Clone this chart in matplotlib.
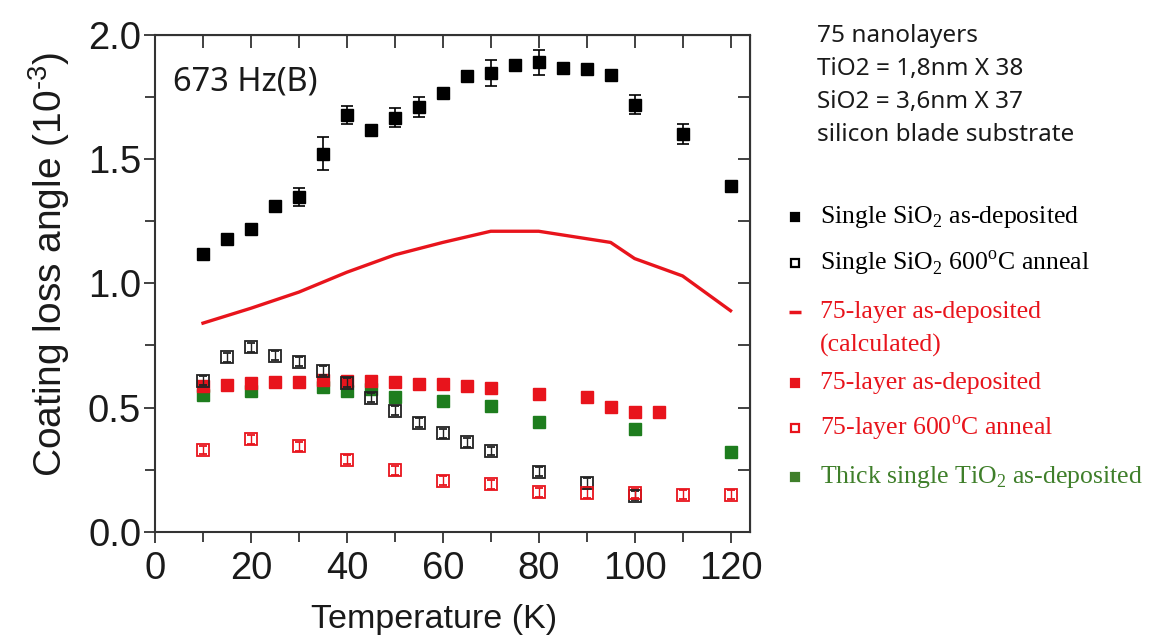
import numpy as np
import matplotlib
matplotlib.use("Agg")
import matplotlib.pyplot as plt
from matplotlib.lines import Line2D
from matplotlib.ticker import MultipleLocator, FormatStrFormatter

plt.rcParams['mathtext.fontset'] = 'custom'
plt.rcParams['mathtext.rm'] = 'Liberation Serif'
plt.rcParams['mathtext.sf'] = 'Liberation Sans'

# Single SiO2 as-deposited
t_sio2 = [10, 15, 20, 25, 30, 35, 40, 45, 50, 55, 60, 65, 70, 75, 80, 85, 90, 95, 100, 110, 120]
phi_sio2 = [1.12, 1.18, 1.218, 1.312, 1.348, 1.523, 1.677, 1.617, 1.668, 1.71, 1.768,
            1.834, 1.847, 1.881, 1.891, 1.867, 1.865, 1.838, 1.72, 1.603, 1.392]
err_sio2 = [0.01, 0.01, 0.01, 0.015, 0.035, 0.067, 0.037, 0.01, 0.04, 0.04, 0.01,
            0.02, 0.054, 0.02, 0.05, 0.02, 0.015, 0.02, 0.038, 0.04, 0.01]

# Single SiO2 600C anneal
t_sio2_ann = [10, 15, 20, 25, 30, 35, 40, 45, 50, 55, 60, 65, 70, 80, 90, 100]
phi_sio2_ann = [0.608, 0.702, 0.742, 0.708, 0.684, 0.648, 0.60, 0.539, 0.487, 0.439,
                0.396, 0.36, 0.325, 0.241, 0.197, 0.145]

# 75-layer as-deposited (calculated)
t_calc = [10, 20, 30, 40, 50, 60, 70, 80, 85, 90, 95, 100, 110, 120]
phi_calc = [0.84, 0.90, 0.965, 1.045, 1.115, 1.165, 1.21, 1.21, 1.195, 1.18, 1.165, 1.10, 1.03, 0.89]

# 75-layer as-deposited (measured)
t_75 = [10, 15, 20, 25, 30, 35, 40, 45, 50, 55, 60, 65, 70, 80, 90, 95, 100, 105]
phi_75 = [0.585, 0.59, 0.60, 0.604, 0.604, 0.612, 0.605, 0.606, 0.604, 0.593, 0.593,
          0.588, 0.58, 0.553, 0.541, 0.503, 0.483, 0.483]

# 75-layer 600C anneal
t_75_ann = [10, 20, 30, 40, 50, 60, 70, 80, 90, 100, 110, 120]
phi_75_ann = [0.329, 0.372, 0.345, 0.289, 0.248, 0.205, 0.192, 0.158, 0.154, 0.154, 0.148, 0.148]

# Thick single TiO2 as-deposited
t_tio2 = [10, 20, 35, 40, 45, 50, 60, 70, 80, 100, 120]
phi_tio2 = [0.55, 0.567, 0.581, 0.566, 0.575, 0.543, 0.527, 0.507, 0.44, 0.413, 0.322]

fig = plt.figure(figsize=(11.57, 6.38), dpi=100)
ax = fig.add_axes([0.134, 0.1666, 0.514, 0.7784])

red = '#e8141c'
green = '#1e7d1e'

ax.plot(t_calc, phi_calc, color=red, lw=2.4, zorder=2)
ax.plot(t_tio2, phi_tio2, 's', color=green, ms=8, zorder=3)
ax.plot(t_75, phi_75, 's', color=red, ms=8, zorder=4)
ax.errorbar(t_sio2_ann, phi_sio2_ann, yerr=0.018, fmt='s', mfc='none', mec='#222222',
            ecolor='#222222', ms=8.5, mew=1.3, elinewidth=1, capsize=3, zorder=5)
ax.errorbar(t_75_ann, phi_75_ann, yerr=0.018, fmt='s', mfc='none', mec=red,
            ecolor=red, ms=8.5, mew=1.3, elinewidth=1, capsize=3, zorder=5)
ax.errorbar(t_sio2, phi_sio2, yerr=err_sio2, fmt='s', color='black', ms=8,
            elinewidth=1.2, capsize=4, capthick=1.2, zorder=6)

ax.set_xlim(0, 124)
ax.set_ylim(0, 2.0)
ax.xaxis.set_major_locator(MultipleLocator(20))
ax.xaxis.set_minor_locator(MultipleLocator(10))
ax.yaxis.set_major_locator(MultipleLocator(0.5))
ax.yaxis.set_minor_locator(MultipleLocator(0.25))
ax.yaxis.set_major_formatter(FormatStrFormatter('%.1f'))
ax.tick_params(which='both', direction='out', width=1.3, color='#333333',
               labelsize=27.5, labelcolor='#1a1a1a')
ax.tick_params(which='major', length=8)
ax.tick_params(which='minor', length=7)
ax.tick_params(axis='x', pad=6)
ax.tick_params(axis='y', pad=2)
for lab in ax.get_xticklabels() + ax.get_yticklabels():
    lab.set_family('Liberation Sans')

for s in ax.spines.values():
    s.set_linewidth(1.5)
    s.set_color('#333333')

# mirrored inward ticks on top and right
top = ax.secondary_xaxis('top')
top.xaxis.set_major_locator(MultipleLocator(10))
top.tick_params(direction='in', length=9, width=1.3, color='#333333', labeltop=False)
right = ax.secondary_yaxis('right')
right.yaxis.set_major_locator(MultipleLocator(0.25))
right.tick_params(direction='in', length=9, width=1.3, color='#333333', labelright=False)

ax.set_xlabel('Temperature (K)', fontsize=24.5, family='Liberation Sans', color='#1a1a1a')
ax.xaxis.set_label_coords(0.47, -0.145)
ax.set_ylabel('Coating loss angle (10$^{\\mathsf{\u20103}}$)', fontsize=28,
              family='Liberation Sans', color='#1a1a1a')
ax.yaxis.set_label_coords(-0.14, 0.537)

ax.text(0.03, 0.905, '673 Hz(B)', transform=ax.transAxes, fontsize=23.5,
        family='Noto Sans', color='#1a1a1a', va='center')

# notes at top right
fig.text(0.706, 0.962, '75 nanolayers\nTiO2 = 1,8nm X 38\nSiO2 = 3,6nm X 37\nsilicon blade substrate',
         fontsize=17.5, family='Noto Sans', color='#1a1a1a', va='top', linespacing=1.49)

# legend
leg_rows = [
    (217, 's', 'black', 'black', 'Single SiO$_2$ as-deposited', 'black'),
    (263, 's', 'none', 'black', 'Single SiO$_2$ 600$^{\\rm o}$C anneal', 'black'),
    (312, '_', red, red, '75-layer as-deposited\n(calculated)', red),
    (383, 's', red, red, '75-layer as-deposited', red),
    (428, 's', 'none', red, '75-layer 600$^{\\rm o}$C anneal', red),
    (477, 's', '#3f7f2a', '#3f7f2a', 'Thick single TiO$_2$ as-deposited', '#3f7f2a'),
]
for ypx, mk, fc, ec, label, tc in leg_rows:
    yf = 1 - ypx / 638
    fig.add_artist(Line2D([795 / 1157], [yf], marker=mk, ms=5.5 if mk == 's' else 8,
                          mfc=fc, mec=ec, mew=1.6 if mk == 's' else 2.5,
                          transform=fig.transFigure))
    if '\n' in label:
        first, second = label.split('\n')
        fig.text(820 / 1157, yf, first, fontsize=18.5, family='Liberation Serif', color=tc, va='center')
        fig.text(820 / 1157, 1 - (ypx + 33) / 638, second, fontsize=18.5,
                 family='Liberation Serif', color=tc, va='center')
    else:
        fig.text(820 / 1157, yf, label, fontsize=18.5, family='Liberation Serif', color=tc, va='center')

fig.savefig('out.png', dpi=100)
